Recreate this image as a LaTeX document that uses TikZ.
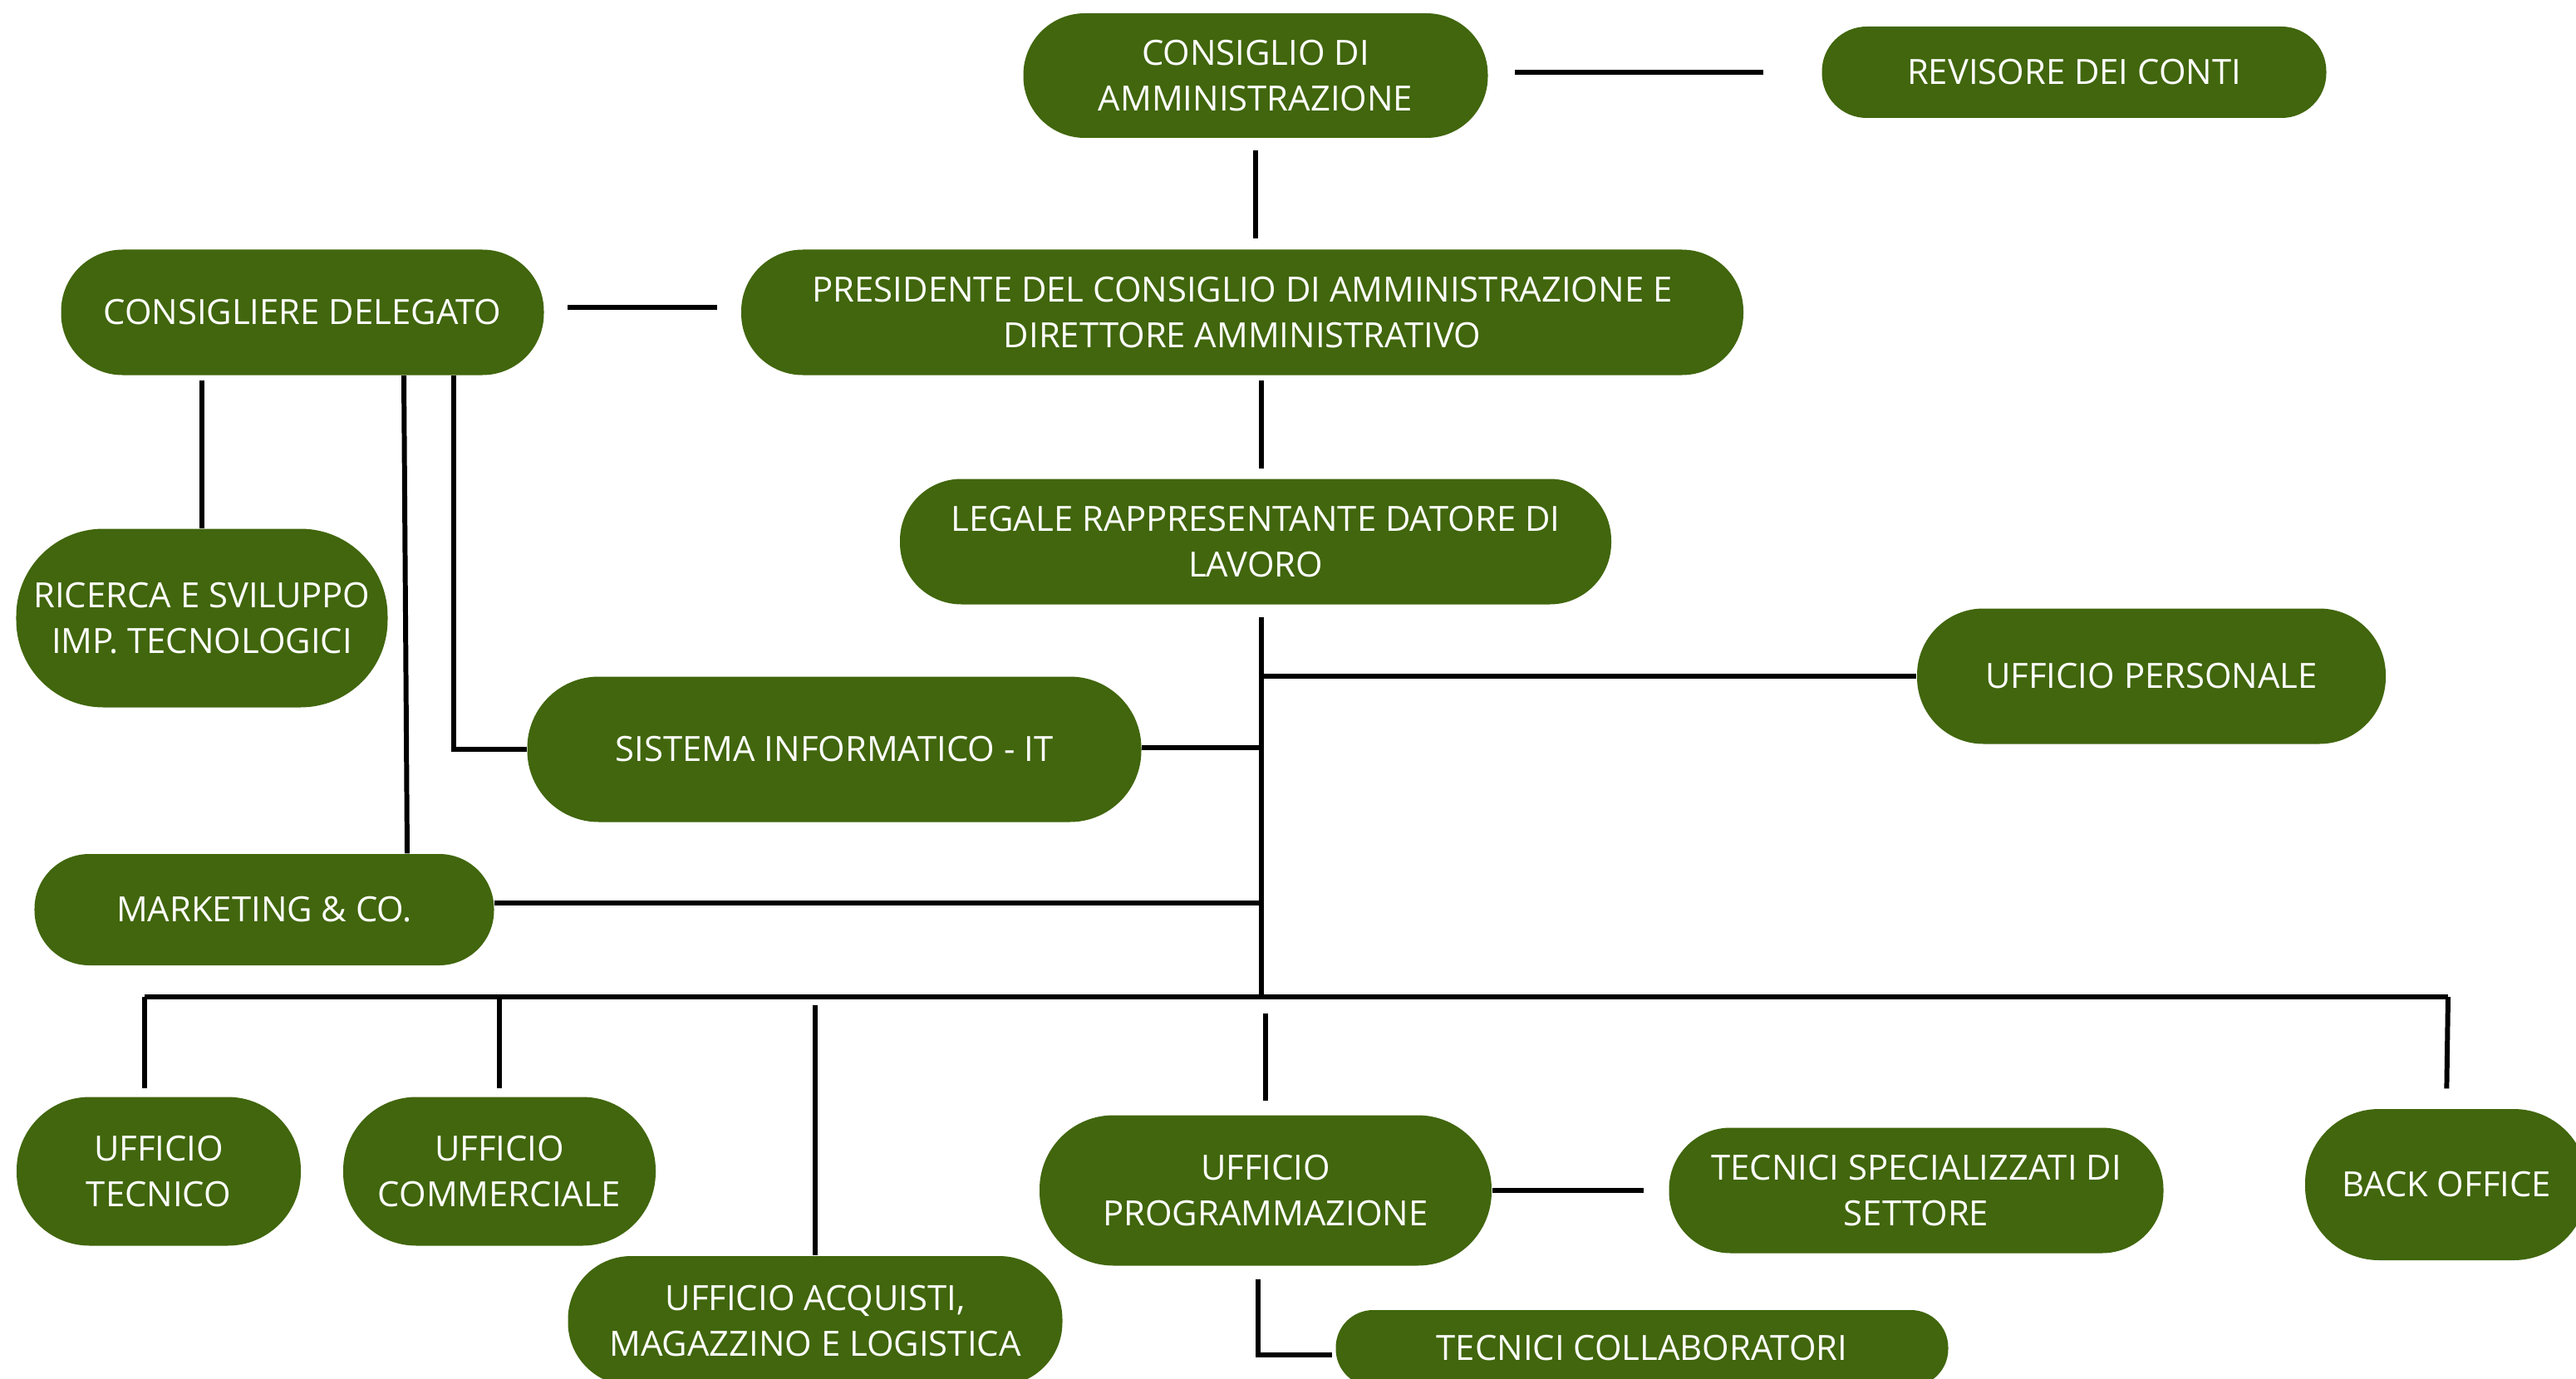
\documentclass[tikz,border=0pt]{standalone}
\usepackage{fontspec}
\setmainfont{Open Sans}
\usetikzlibrary{calc}
\definecolor{dg}{RGB}{65,102,13}
\tikzset{
    pill/.style =   {rectangle,
                    rounded corners=#1,
                    fill=dg,
                    draw=none,
                    text=white,
                    align=center,
                    inner sep=0pt,
                    font=\fontsize{11.9}{15.8}\selectfont},
    pill/.default = 0.74cm,
    link/.style =   {draw=black,
                    line width=1.7pt}
}
\begin{document}
\begin{tikzpicture}
        \useasboundingbox (0,0) rectangle (31,-16.6);
                % top of the chart
                \node[pill, minimum width=5.59cm, minimum height=1.50cm]        (cda)   at (15.11,-0.91)  {CONSIGLIO DI\\AMMINISTRAZIONE};
                \node[pill=0.54cm, minimum width=6.07cm, minimum height=1.10cm] (rev)   at (24.96,-0.87)  {REVISORE DEI CONTI};
                \node[pill, minimum width=5.81cm, minimum height=1.51cm]        (cdel)  at (3.64,-3.76)   {CONSIGLIERE DELEGATO};
                \node[pill, minimum width=12.06cm, minimum height=1.51cm]       (pres)  at (14.95,-3.76)  {PRESIDENTE DEL CONSIGLIO DI AMMINISTRAZIONE E\\DIRETTORE AMMINISTRATIVO};
                \node[pill, minimum width=8.56cm, minimum height=1.51cm]        (leg)   at (15.11,-6.52)  {LEGALE RAPPRESENTANTE DATORE DI\\LAVORO};
                % middle
                \node[pill=1.05cm, minimum width=4.47cm, minimum height=2.15cm] (ric)   at (2.43,-7.44)   {RICERCA E SVILUPPO\\IMP. TECNOLOGICI};
                \node[pill=0.80cm, minimum width=5.64cm, minimum height=1.63cm] (uper)  at (25.89,-8.14)  {UFFICIO PERSONALE};
                \node[pill=0.86cm, minimum width=7.39cm, minimum height=1.75cm] (sit)   at (10.04,-9.02)  {SISTEMA INFORMATICO - IT};
                \node[pill=0.66cm, minimum width=5.53cm, minimum height=1.34cm] (mkt)   at (3.18,-10.95)  {MARKETING \& CO.};
                % offices
                \node[pill=0.88cm, minimum width=3.42cm, minimum height=1.79cm] (utec)  at (1.91,-14.10)  {UFFICIO\\TECNICO};
                \node[pill=0.88cm, minimum width=3.76cm, minimum height=1.79cm] (ucom)  at (6.01,-14.10)  {UFFICIO\\COMMERCIALE};
                \node[pill=0.76cm, minimum width=5.95cm, minimum height=1.56cm] (uacq)  at (9.81,-15.90)  {UFFICIO ACQUISTI,\\MAGAZZINO E LOGISTICA};
                \node[pill=0.89cm, minimum width=5.44cm, minimum height=1.81cm] (uprog) at (15.23,-14.33) {UFFICIO\\PROGRAMMAZIONE};
                \node[pill, minimum width=5.95cm, minimum height=1.51cm]        (tsp)   at (23.06,-14.33) {TECNICI SPECIALIZZATI DI\\SETTORE};
                \node[pill=0.89cm, minimum width=3.40cm, minimum height=1.82cm] (bo)    at (29.44,-14.26) {BACK OFFICE};
                \node[pill=0.45cm, minimum width=7.37cm, minimum height=0.92cm] (tcol)  at (19.76,-16.23) {TECNICI COLLABORATORI};
                % trunk and bus
                \coordinate (top)  at ([xshift=0.07cm,yshift=-0.15cm]leg.south);
                \coordinate (bus)  at (top |- 0,-12);
                \coordinate (busL) at (1.74,-12);
                \coordinate (busR) at (29.46,-12);
                \draw[link, shorten <=0.32cm, shorten >=0.70cm] (cda.east |- rev.west) -- (rev.west);
                \draw[link, shorten <=0.14cm, shorten >=0.13cm] (cda.south) -- (cda.south |- pres.north);
                \draw[link, shorten <=0.28cm, shorten >=0.28cm] ([yshift=0.06cm]cdel.east) -- ([yshift=0.06cm]pres.west);
                \draw[link, shorten <=0.06cm, shorten >=0.12cm] (top |- pres.south) -- (top |- leg.north);
                \draw[link, shorten <=0.06cm] (ric.north |- cdel.south) -- (ric.north);
                \draw[link] ([xshift=1.22cm]cdel.south) -- ([xshift=1.72cm]mkt.north);
                \draw[link] ([xshift=1.82cm]cdel.south) |- (sit.west);
                \draw[link] (top) -- (bus);
                \draw[link] ([yshift=0.02cm]sit.east) -- ([yshift=0.02cm]sit.east -| top);
                \draw[link] (uper.west) -- (uper.west -| top);
                \draw[link] ([yshift=0.08cm]mkt.east) -- ([yshift=0.08cm]mkt.east -| top);
                \draw[link] (busL) -- (busR);
                \draw[link, shorten >=0.10cm] (busL) -- (busL |- utec.north);
                \draw[link, shorten >=0.10cm] (ucom.north |- bus) -- (ucom.north);
                \draw[link, shorten <=0.10cm] (uacq.north |- bus) -- (uacq.north);
                \draw[link, shorten <=0.20cm, shorten >=0.17cm] (uprog.north |- bus) -- (uprog.north);
                \draw[link, shorten >=0.24cm] (busR) -- (bo.north);
                \draw[link, shorten >=0.30cm] (uprog.east) -- (tsp.west);
                \draw[link] ([xshift=-0.09cm,yshift=-0.16cm]uprog.south) |- ([xshift=-0.04cm,yshift=-0.08cm]tcol.west);
\end{tikzpicture}
\end{document}
